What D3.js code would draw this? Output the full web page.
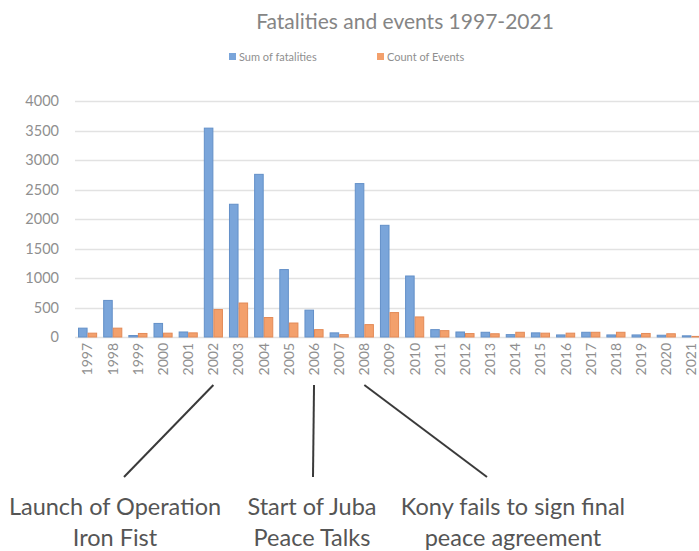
<!DOCTYPE html>
<html>
<head>
<meta charset="utf-8">
<script src="https://cdn.jsdelivr.net/npm/d3@7"></script>
<style>
  body { margin: 0; background: #fff; }
  text { font-family: Lato, "Open Sans", sans-serif; }
</style>
</head>
<body>
<svg id="chart" width="699" height="551"></svg>
<script>
// years on the x axis
var years = ["1997", "1998", "1999", "2000", "2001", "2002", "2003", "2004", "2005",
             "2006", "2007", "2008", "2009", "2010", "2011", "2012", "2013", "2014",
             "2015", "2016", "2017", "2018", "2019", "2020", "2021"];

// sum of fatalities per year
var fatalities = [150, 620, 25, 230, 85, 3540, 2250, 2757, 1143, 455, 70, 2600, 1893, 1034,
                  125, 85, 80, 40, 70, 35, 80, 35, 35, 30, 20];

// count of events per year
var events = [65, 150, 60, 65, 70, 465, 576, 330, 237, 125, 40, 210, 414, 340,
              108, 58, 55, 80, 65, 65, 80, 80, 60, 55, 10];

var yTicks = [0, 500, 1000, 1500, 2000, 2500, 3000, 3500, 4000];

var seriesNames = ["Sum of fatalities", "Count of Events"];

// annotations: year the line points at and the two text lines
var notes = [
    {year: "2002", lines: ["Launch of Operation", "Iron Fist"]},
    {year: "2006", lines: ["Start of Juba", "Peace Talks"]},
    {year: "2008", lines: ["Kony fails to sign final", "peace agreement"]}
];

var colours = {"Sum of fatalities": "#7aa5da", "Count of Events": "#f3a06c"};
var strokes = {"Sum of fatalities": "#6390c8", "Count of Events": "#e38a57"};

var svg = d3.select("#chart");

// scales
var x = d3.scaleBand()
    .domain(years)
    .range([75, 704])
    .paddingInner(0.24)
    .paddingOuter(0.12);

var xSub = d3.scaleBand()
    .domain(seriesNames)
    .range([0, x.bandwidth()]);

var y = d3.scaleLinear()
    .domain([0, 4000])
    .range([337, 101]);

// gridlines
svg.append("g")
    .selectAll("line")
    .data(yTicks)
    .enter().append("line")
    .attr("x1", 75)
    .attr("x2", 699)
    .attr("y1", function(d) { return Math.round(y(d)) + 0.5; })
    .attr("y2", function(d) { return Math.round(y(d)) + 0.5; })
    .attr("stroke", "#e2e2e2")
    .attr("stroke-width", 1.3);

// y axis labels
var yAxis = d3.axisLeft(y).tickValues(yTicks).tickFormat(d3.format("d")).tickSize(0).tickPadding(0);
var gy = svg.append("g")
    .attr("transform", "translate(59,0)")
    .call(yAxis);
gy.select(".domain").remove();
gy.selectAll("text")
    .attr("fill", "#8f8f8f")
    .style("font-size", "14.5px");

// x axis labels (rotated)
var xAxis = d3.axisBottom(x).tickSize(0).tickPadding(0);
var gx = svg.append("g")
    .attr("transform", "translate(0,343)")
    .call(xAxis);
gx.select(".domain").remove();
gx.selectAll("text")
    .attr("transform", "rotate(-90)")
    .attr("text-anchor", "end")
    .attr("x", 0)
    .attr("y", 0)
    .attr("dy", "0.35em")
    .attr("fill", "#8f8f8f")
    .style("font-size", "14px");

// bars
var rows = years.map(function(yr, i) {
    return {year: yr, values: [
        {name: seriesNames[0], value: fatalities[i]},
        {name: seriesNames[1], value: events[i]}
    ]};
});

var groups = svg.append("g")
    .selectAll("g")
    .data(rows)
    .enter().append("g")
    .attr("transform", function(d) { return "translate(" + x(d.year) + ",0)"; });

groups.selectAll("rect")
    .data(function(d) { return d.values; })
    .enter().append("rect")
    .attr("x", function(d) { return xSub(d.name) + 0.5; })
    .attr("width", xSub.bandwidth() - 1)
    .attr("y", function(d) { return y(d.value); })
    .attr("height", function(d) { return y(0) - y(d.value); })
    .attr("fill", function(d) { return colours[d.name]; })
    .attr("stroke", function(d) { return strokes[d.name]; })
    .attr("stroke-width", 1);

// title
svg.append("text")
    .attr("x", 405)
    .attr("y", 29)
    .attr("text-anchor", "middle")
    .attr("fill", "#858585")
    .style("font-size", "21px")
    .text("Fatalities and events 1997-2021");

// legend
var legendX = [229, 377];
var legend = svg.append("g")
    .selectAll("g")
    .data(seriesNames)
    .enter().append("g")
    .attr("transform", function(d, i) { return "translate(" + legendX[i] + ",53)"; });
legend.append("rect")
    .attr("width", 7)
    .attr("height", 7)
    .attr("fill", function(d) { return colours[d]; });
legend.append("text")
    .attr("x", 10)
    .attr("y", 7.5)
    .attr("fill", "#8f8f8f")
    .style("font-size", "11px")
    .text(function(d) { return d; });

// annotations
var noteTextX = [115, 312, 513];
var lineEndX = [124, 313, 487];
var noteGroups = svg.append("g")
    .selectAll("g")
    .data(notes)
    .enter().append("g");

noteGroups.append("line")
    .attr("x1", function(d) { return x(d.year) + x.bandwidth() / 2; })
    .attr("y1", 385)
    .attr("x2", function(d, i) { return lineEndX[i]; })
    .attr("y2", 477)
    .attr("stroke", "#3a3a3a")
    .attr("stroke-width", 2);

noteGroups.selectAll("text")
    .data(function(d, i) { return d.lines.map(function(l) { return {text: l, cx: noteTextX[i]}; }); })
    .enter().append("text")
    .attr("x", function(d) { return d.cx; })
    .attr("y", function(d, j) { return 515 + j * 31; })
    .attr("text-anchor", "middle")
    .attr("fill", "#555555")
    .style("font-size", "23.5px")
    .text(function(d) { return d.text; });
</script>
</body>
</html>
